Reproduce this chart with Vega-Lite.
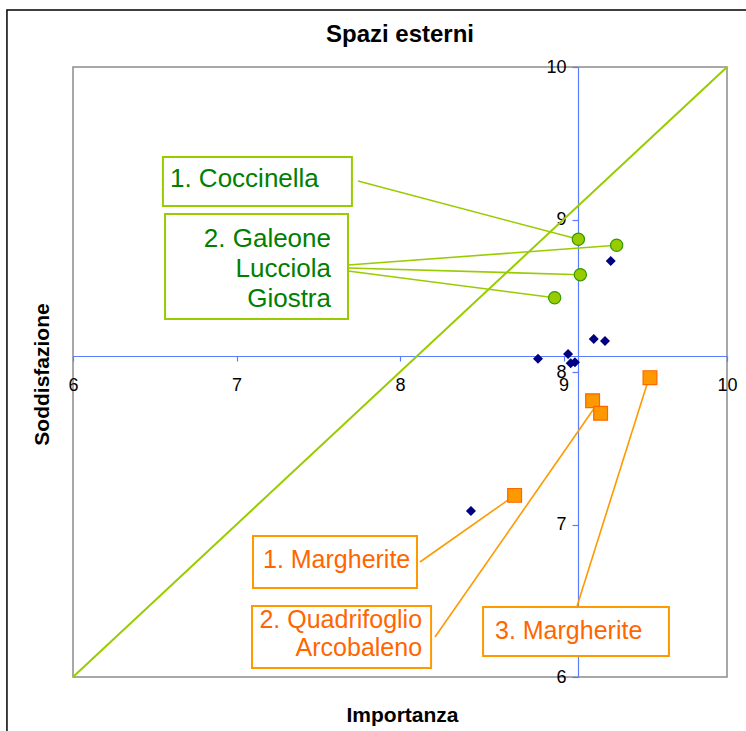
{
  "$schema": "https://vega.github.io/schema/vega-lite/v6.json",
  "width": 654,
  "height": 610,
  "autosize": {"type": "none"},
  "padding": {"left": 73, "top": 67, "right": 19, "bottom": 54},
  "background": "white",
  "config": {"view": {"stroke": "#8c8c8c", "strokeWidth": 1.5}, "font": "Liberation Sans"},
  "title": {"text": "Spazi esterni", "font": "Liberation Sans", "fontSize": 24, "fontWeight": "bold", "color": "black", "anchor": "middle", "offset": 13, "dy": 51},
  "datasets": {
    "diag": [{"x": 6, "y": 6}, {"x": 10, "y": 10}],
    "green": [
      {"x": 9.091, "y": 8.870},
      {"x": 9.325, "y": 8.831},
      {"x": 9.103, "y": 8.638},
      {"x": 8.946, "y": 8.487}
    ],
    "navy": [
      {"x": 9.289, "y": 8.728},
      {"x": 9.185, "y": 8.216},
      {"x": 9.254, "y": 8.203},
      {"x": 8.844, "y": 8.087},
      {"x": 9.028, "y": 8.118},
      {"x": 9.044, "y": 8.057},
      {"x": 9.070, "y": 8.064},
      {"x": 8.434, "y": 7.089}
    ],
    "orange": [
      {"x": 9.529, "y": 7.963},
      {"x": 9.178, "y": 7.812},
      {"x": 9.227, "y": 7.729},
      {"x": 8.701, "y": 7.191}
    ],
    "greenLeaders": [
      {"x": 7.743, "y": 9.252, "x2": 9.091, "y2": 8.870},
      {"x": 7.682, "y": 8.702, "x2": 9.325, "y2": 8.831},
      {"x": 7.682, "y": 8.682, "x2": 9.103, "y2": 8.638},
      {"x": 7.682, "y": 8.662, "x2": 8.946, "y2": 8.487}
    ],
    "orangeLeaders": [
      {"x": 8.122, "y": 6.754, "x2": 8.701, "y2": 7.191},
      {"x": 8.214, "y": 6.262, "x2": 9.193, "y2": 7.770},
      {"x": 9.083, "y": 6.466, "x2": 9.517, "y2": 7.941}
    ],
    "greenBoxes": [
      {"x": 6.550, "x2": 7.706, "y": 9.410, "y2": 9.089},
      {"x": 6.563, "x2": 7.682, "y": 9.036, "y2": 8.348}
    ],
    "orangeBoxes": [
      {"x": 7.101, "x2": 8.104, "y": 6.925, "y2": 6.584},
      {"x": 7.095, "x2": 8.190, "y": 6.466, "y2": 6.059},
      {"x": 8.508, "x2": 9.645, "y": 6.459, "y2": 6.138}
    ],
    "greenLeftLabels": [{"x": 6.593, "y": 9.213, "label": "1. Coccinella"}],
    "greenRightLabels": [{"x": 7.578, "y": 8.820, "label": "2. Galeone\nLucciola\nGiostra"}],
    "orangeLeftLabels": [
      {"x": 7.162, "y": 6.715, "label": "1. Margherite"},
      {"x": 8.581, "y": 6.249, "label": "3. Margherite"}
    ],
    "orangeRightLabels": [{"x": 8.135, "y": 6.321, "label": "2. Quadrifoglio\nArcobaleno"}]
  },
  "layer": [
    {
      "data": {"name": "diag"},
      "mark": {"type": "line", "color": "#99cc00", "strokeWidth": 2},
      "encoding": {
        "x": {
          "field": "x", "type": "quantitative",
          "scale": {"domain": [6, 10], "nice": false, "zero": false},
          "axis": {
            "title": "Importanza", "values": [6, 7, 8, 9, 10], "format": "d", "offset": -321, "grid": false,
            "domainColor": "#5a7dff", "domainWidth": 1.2, "tickColor": "#5a7dff", "tickSize": 5, "tickWidth": 1.2,
            "labelFont": "Liberation Sans", "labelFontSize": 18, "labelColor": "black", "labelPadding": 15,
            "labelFlush": false, "labelOverlap": false, "labelBound": false,
            "titleFont": "Liberation Sans", "titleFontSize": 21, "titleFontWeight": "bold", "titleColor": "black",
            "titleX": 329, "titleY": 359, "titleBaseline": "middle", "titleAlign": "center"
          }
        },
        "y": {
          "field": "y", "type": "quantitative",
          "scale": {"domain": [6, 10], "nice": false, "zero": false},
          "axis": {
            "title": "Soddisfazione", "values": [6, 7, 8, 9, 10], "format": "d", "offset": -505, "grid": false,
            "domainColor": "#5a7dff", "domainWidth": 1.2, "tickColor": "#5a7dff", "tickSize": 6, "tickWidth": 1.2,
            "labelFont": "Liberation Sans", "labelFontSize": 18, "labelColor": "black", "labelPadding": 6,
            "labelFlush": false, "labelOverlap": false, "labelBound": false,
            "titleFont": "Liberation Sans", "titleFontSize": 21, "titleFontWeight": "bold", "titleColor": "black",
            "titleX": -536, "titleY": 307, "titleBaseline": "middle", "titleAlign": "center", "titleAngle": -90
          }
        }
      }
    },
    {
      "data": {"values": [{}]},
      "mark": {"type": "rect", "filled": false, "color": "black", "strokeWidth": 1.5, "clip": false},
      "encoding": {
        "x": {"datum": 5.596, "type": "quantitative"},
        "x2": {"datum": 10.202},
        "y": {"datum": 10.374, "type": "quantitative"},
        "y2": {"datum": 5.554}
      }
    },
    {
      "data": {"name": "greenLeaders"},
      "mark": {"type": "rule", "color": "#99cc00", "strokeWidth": 1.6},
      "encoding": {
        "x": {"field": "x", "type": "quantitative"},
        "y": {"field": "y", "type": "quantitative"},
        "x2": {"field": "x2"},
        "y2": {"field": "y2"}
      }
    },
    {
      "data": {"name": "orangeLeaders"},
      "mark": {"type": "rule", "color": "#ff9900", "strokeWidth": 1.6},
      "encoding": {
        "x": {"field": "x", "type": "quantitative"},
        "y": {"field": "y", "type": "quantitative"},
        "x2": {"field": "x2"},
        "y2": {"field": "y2"}
      }
    },
    {
      "data": {"name": "greenBoxes"},
      "mark": {"type": "rect", "fill": "white", "stroke": "#99cc00", "strokeWidth": 2},
      "encoding": {
        "x": {"field": "x", "type": "quantitative"},
        "x2": {"field": "x2"},
        "y": {"field": "y", "type": "quantitative"},
        "y2": {"field": "y2"}
      }
    },
    {
      "data": {"name": "orangeBoxes"},
      "mark": {"type": "rect", "fill": "white", "stroke": "#ff9900", "strokeWidth": 2},
      "encoding": {
        "x": {"field": "x", "type": "quantitative"},
        "x2": {"field": "x2"},
        "y": {"field": "y", "type": "quantitative"},
        "y2": {"field": "y2"}
      }
    },
    {
      "data": {"name": "greenLeftLabels"},
      "mark": {"type": "text", "align": "left", "baseline": "alphabetic", "font": "Liberation Sans", "fontSize": 26, "color": "#008000"},
      "encoding": {
        "x": {"field": "x", "type": "quantitative"},
        "y": {"field": "y", "type": "quantitative"},
        "text": {"field": "label"}
      }
    },
    {
      "data": {"name": "greenRightLabels"},
      "mark": {"type": "text", "align": "right", "baseline": "alphabetic", "lineBreak": "\n", "lineHeight": 30, "font": "Liberation Sans", "fontSize": 26, "color": "#008000"},
      "encoding": {
        "x": {"field": "x", "type": "quantitative"},
        "y": {"field": "y", "type": "quantitative"},
        "text": {"field": "label"}
      }
    },
    {
      "data": {"name": "orangeLeftLabels"},
      "mark": {"type": "text", "align": "left", "baseline": "alphabetic", "font": "Liberation Sans", "fontSize": 25, "color": "#ff6600"},
      "encoding": {
        "x": {"field": "x", "type": "quantitative"},
        "y": {"field": "y", "type": "quantitative"},
        "text": {"field": "label"}
      }
    },
    {
      "data": {"name": "orangeRightLabels"},
      "mark": {"type": "text", "align": "right", "baseline": "alphabetic", "lineBreak": "\n", "lineHeight": 28, "font": "Liberation Sans", "fontSize": 25, "color": "#ff6600"},
      "encoding": {
        "x": {"field": "x", "type": "quantitative"},
        "y": {"field": "y", "type": "quantitative"},
        "text": {"field": "label"}
      }
    },
    {
      "data": {"name": "navy"},
      "mark": {"type": "point", "shape": "diamond", "filled": true, "color": "#000080", "size": 100, "opacity": 1},
      "encoding": {
        "x": {"field": "x", "type": "quantitative"},
        "y": {"field": "y", "type": "quantitative"}
      }
    },
    {
      "data": {"name": "green"},
      "mark": {"type": "point", "shape": "circle", "filled": true, "fill": "#99cc00", "stroke": "#339900", "strokeWidth": 1.2, "size": 150, "opacity": 1},
      "encoding": {
        "x": {"field": "x", "type": "quantitative"},
        "y": {"field": "y", "type": "quantitative"}
      }
    },
    {
      "data": {"name": "orange"},
      "mark": {"type": "point", "shape": "square", "filled": true, "fill": "#ff9900", "stroke": "#ff6600", "strokeWidth": 1.2, "size": 190, "opacity": 1},
      "encoding": {
        "x": {"field": "x", "type": "quantitative"},
        "y": {"field": "y", "type": "quantitative"}
      }
    }
  ]
}
